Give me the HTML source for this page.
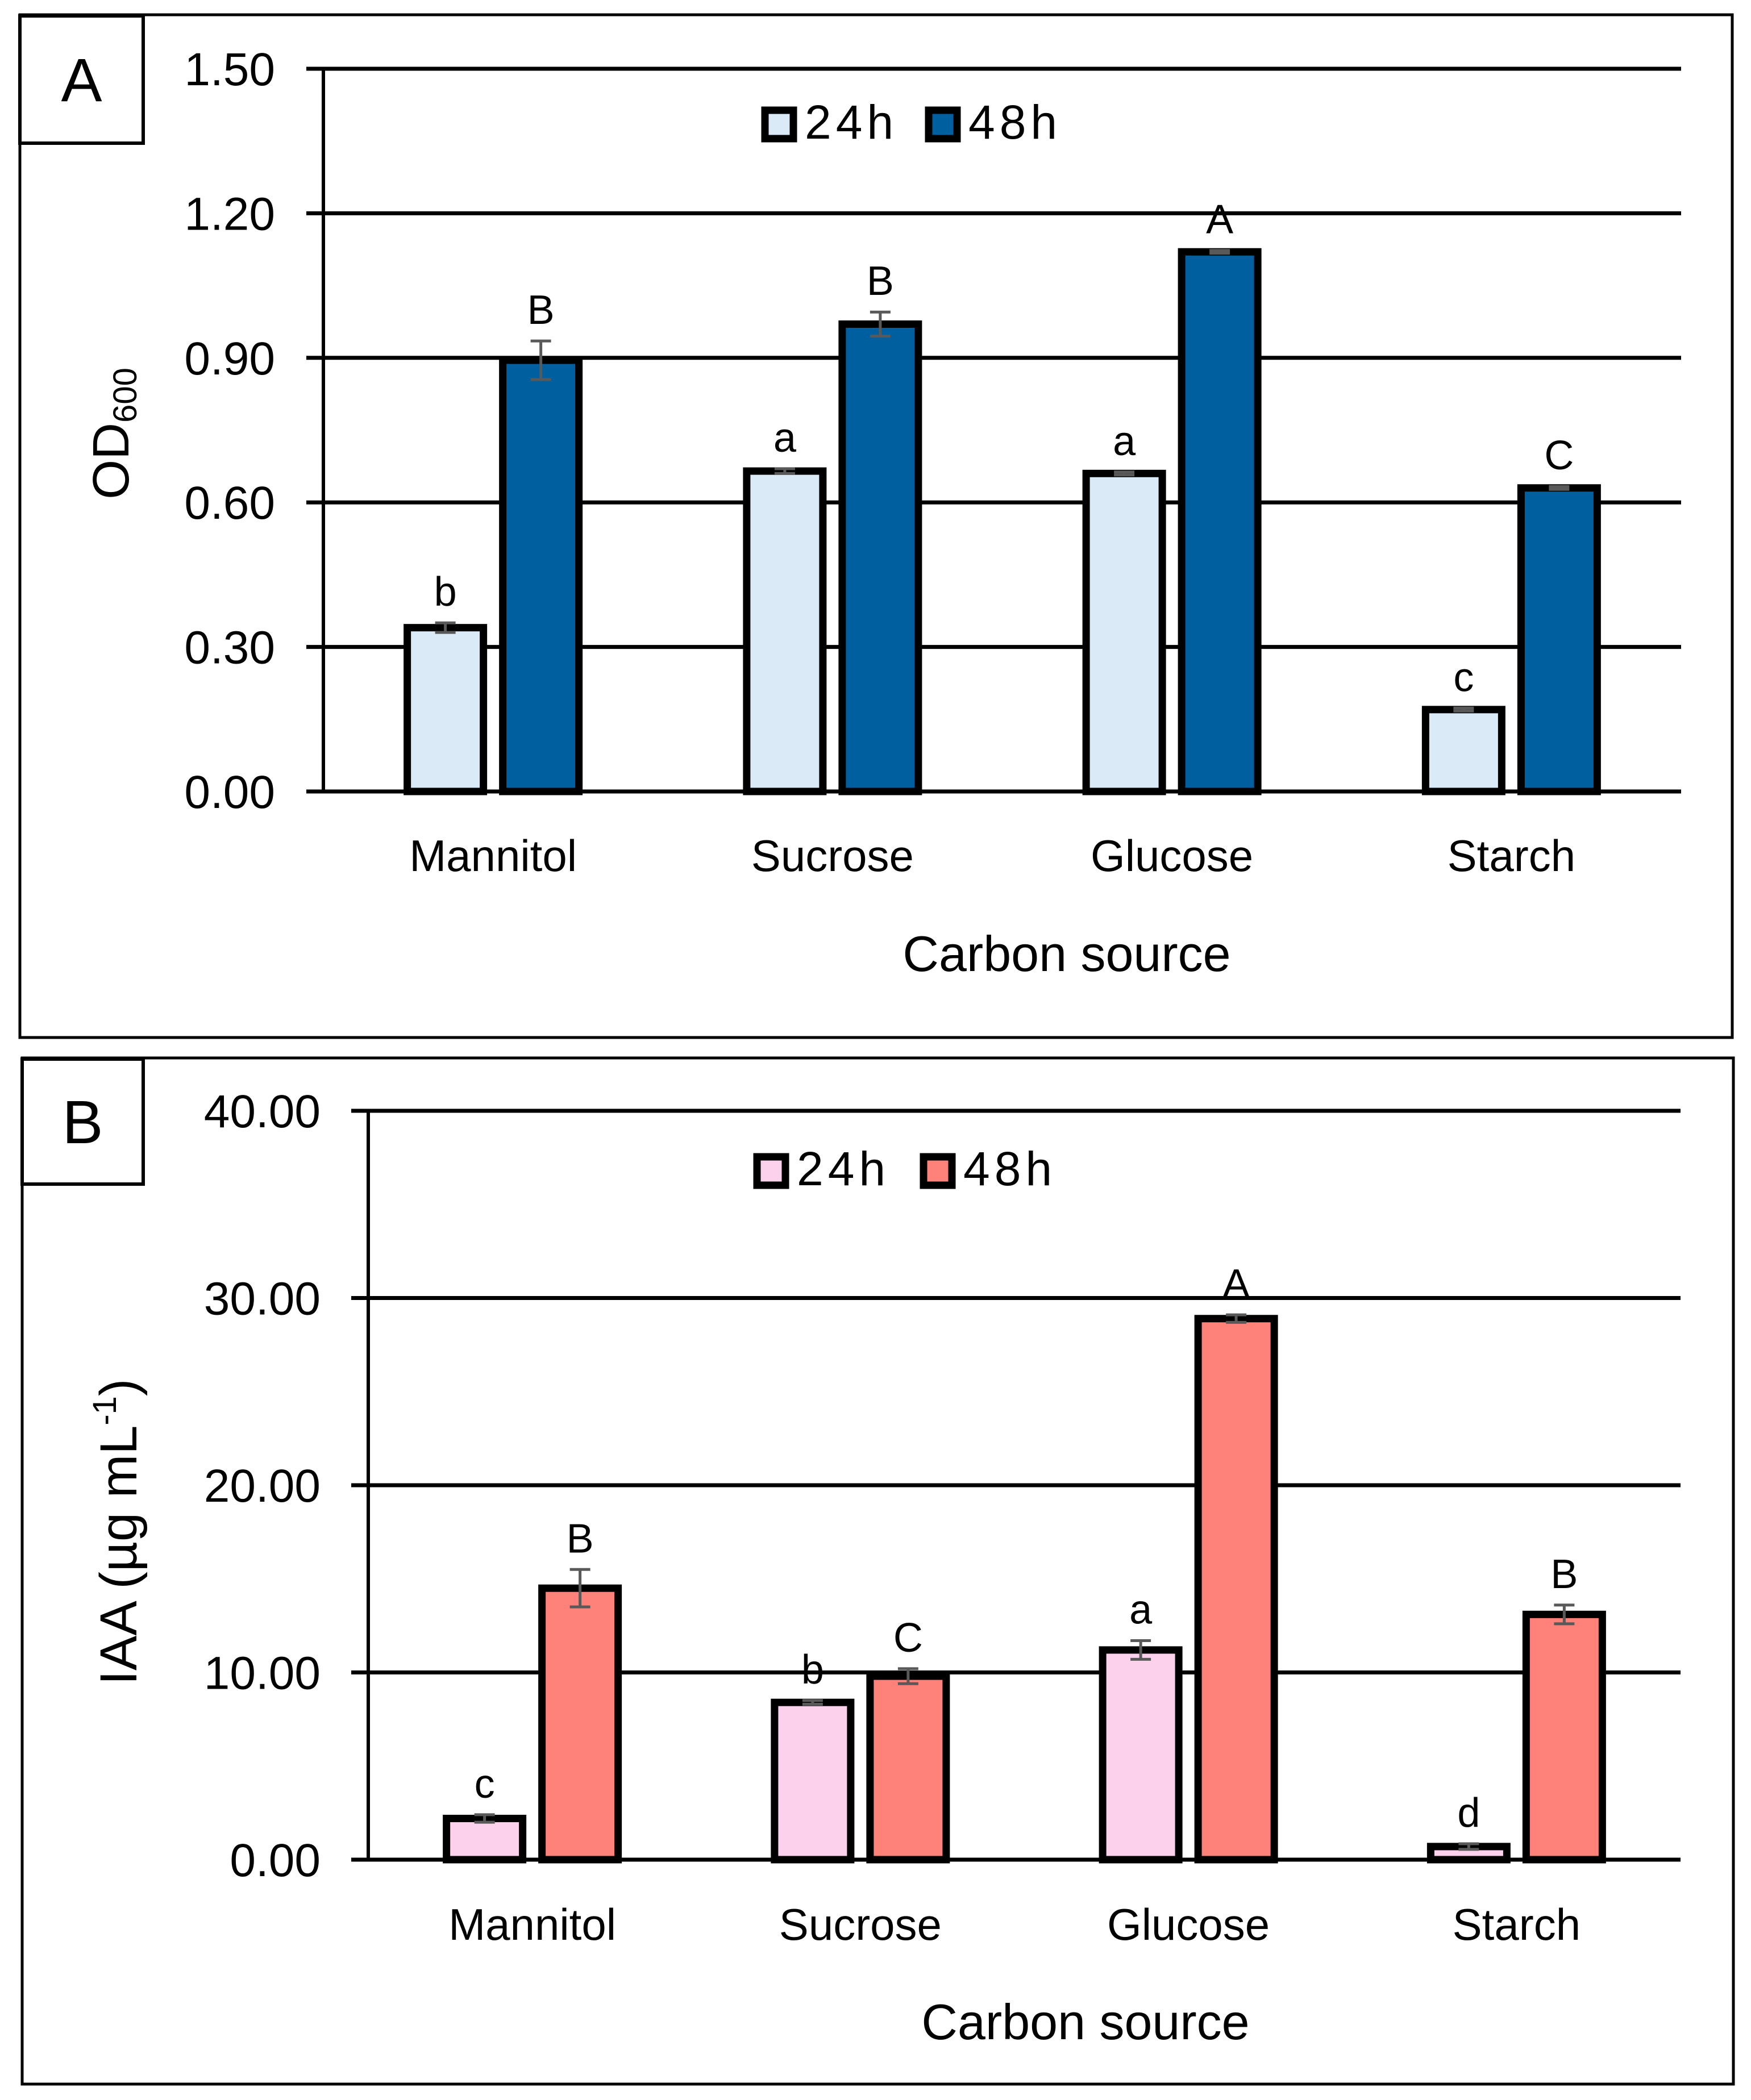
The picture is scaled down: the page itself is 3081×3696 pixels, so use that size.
<!DOCTYPE html>
<html><head><meta charset="utf-8"><style>
html,body{margin:0;padding:0;background:#fff}
svg{display:block}
text{font-family:"Liberation Sans",sans-serif;fill:#000}
</style></head><body>
<svg id="fig" width="3081" height="3696" viewBox="0 0 3081 3696" xmlns="http://www.w3.org/2000/svg"></svg>
<script>
const categories = ["Mannitol","Sucrose","Glucose","Starch"];
// Panel A: OD600
const odTicks = [0, 0.30, 0.60, 0.90, 1.20, 1.50];
const od24 = [0.34, 0.665, 0.66, 0.17];
const od48 = [0.895, 0.97, 1.12, 0.63];
const od24err = [0.01, 0.005, 0.003, 0.003];
const od48err = [0.04, 0.025, 0.003, 0.003];
const od24letters = ["b","a","a","c"];
const od48letters = ["B","B","A","C"];
// Panel B: IAA
const iaaTicks = [0, 10, 20, 30, 40];
const iaa24 = [2.2, 8.4, 11.2, 0.7];
const iaa48 = [14.5, 9.8, 28.9, 13.1];
const iaa24err = [0.2, 0.1, 0.5, 0.15];
const iaa48err = [1.0, 0.4, 0.2, 0.5];
const iaa24letters = ["c","b","a","d"];
const iaa48letters = ["B","C","A","B"];

const NS = "http://www.w3.org/2000/svg";
const svg = document.getElementById('fig');
function mk(tag, attrs, parent, txt){
  const e = document.createElementNS(NS, tag);
  for (const k in attrs) e.setAttribute(k, attrs[k]);
  if (txt !== undefined) e.textContent = txt;
  (parent || svg).appendChild(e);
  return e;
}

function panel(cfg){
  const g = mk('g', {});
  
  
  const frame = mk('rect', {x:cfg.box[0], y:cfg.box[1], width:cfg.box[2]-cfg.box[0], height:cfg.box[3]-cfg.box[1], fill:'none', stroke:'#000', 'stroke-width':5}, g);
  
  
  const lb = mk('rect', {x:cfg.lbox[0], y:cfg.lbox[1], width:cfg.lbox[2]-cfg.lbox[0], height:cfg.lbox[3]-cfg.lbox[1], fill:'#fff', stroke:'#000', 'stroke-width':6}, g);
  
  
  const lt = mk('text', {x:(cfg.lbox[0]+cfg.lbox[2])/2, y:(cfg.lbox[1]+cfg.lbox[3])/2+38, 'font-size':108, 'text-anchor':'middle'}, g, cfg.letter);
  
  

  const x0 = cfg.x0, x1 = cfg.x1, y0 = cfg.y0, yTop = cfg.yTop, max = cfg.max;
  const yS = v => y0 - (v/max)*(y0-yTop);
  const cw = (x1-x0)/categories.length;
  const cx = i => x0 + cw*(i+0.5);

  cfg.ticks.forEach(t=>{
    const y = yS(t);
    const gl = mk('line', {x1:x0-30, x2:x1, y1:y, y2:y, stroke:'#000', 'stroke-width':7}, g);
    
    
    const tl = mk('text', {x:cfg.tickRight, y:y+29, 'font-size':82, 'text-anchor':'end'}, g, t.toFixed(2));
    
    
  });
  const ax = mk('line', {x1:x0, x2:x0, y1:yTop, y2:y0+3, stroke:'#000', 'stroke-width':6}, g);
  
  

  const bw = 134, off = 84;
  const series = [
    {vals:cfg.s24, err:cfg.e24, let:cfg.l24, fill:cfg.c24, d:-off, nm:'bar-24h'},
    {vals:cfg.s48, err:cfg.e48, let:cfg.l48, fill:cfg.c48, d:off, nm:'bar-48h'}
  ];
  series.forEach(s=>{
    s.vals.forEach((v,i)=>{
      const c = cx(i)+s.d;
      const yt = yS(v);
      const r = mk('rect', {x:c-bw/2, y:yt, width:bw, height:y0-yt, fill:s.fill, stroke:'#000', 'stroke-width':13}, g);
      
      
      const eT = yS(v+s.err[i]), eB = yS(v-s.err[i]);
      const eb = mk('path', {d:`M${c},${eT}V${eB}M${c-18},${eT}H${c+18}M${c-18},${eB}H${c+18}`, stroke:'#595959', 'stroke-width':5, fill:'none'}, g);
      
      
      const lt2 = mk('text', {x:c, y:eT-30, 'font-size':72, 'text-anchor':'middle'}, g, s.let[i]);
      
      
    });
  });

  categories.forEach((cat,i)=>{
    const t = mk('text', {x:cx(i), y:cfg.catY, 'font-size':78, 'text-anchor':'middle'}, g, cat);
    
    
  });
  const xt = mk('text', {x:cfg.xTitleX, y:cfg.xTitleY, 'font-size':88, 'text-anchor':'middle'}, g, 'Carbon source');
  
  

  const legs = [[cfg.legX[0], cfg.c24, '24h'], [cfg.legX[1], cfg.c48, '48h']];
  legs.forEach(l=>{
    const lg = mk('g', {}, g);
    
    
    mk('rect', {x:l[0]+6, y:cfg.legY+6, width:50, height:50, fill:l[1], stroke:'#000', 'stroke-width':13}, lg);
    mk('text', {x:l[0]+76, y:cfg.legY+56, 'font-size':84, 'letter-spacing':8}, lg, l[2]);
  });
  return g;
}

const gA = panel({name:'panel-a', letter:'A', box:[35,26,3048,1826], lbox:[35,28,252,252],
  x0:569, x1:2958, y0:1393, yTop:121, max:1.5, ticks:odTicks, tickRight:484,
  s24:od24, s48:od48, e24:od24err, e48:od48err, l24:od24letters, l48:od48letters,
  c24:'#daeaf7', c48:'#005f9e', catY:1533, xTitleX:1877, xTitleY:1709, legX:[1340,1628], legY:188});
const yA = mk('text', {transform:'translate(226,763) rotate(-90)', 'font-size':90, 'text-anchor':'middle'}, gA);


mk('tspan', {}, yA, 'OD');
mk('tspan', {'font-size':58, dy:14}, yA, '600');

const gB = panel({name:'panel-b', letter:'B', box:[39,1862,3050,3668], lbox:[39,1864,252,2084],
  x0:648, x1:2957, y0:3273, yTop:1955, max:40, ticks:iaaTicks, tickRight:564,
  s24:iaa24, s48:iaa48, e24:iaa24err, e48:iaa48err, l24:iaa24letters, l48:iaa48letters,
  c24:'#fbd1ec', c48:'#fe8279', catY:3414, xTitleX:1910, xTitleY:3589, legX:[1326,1619], legY:2030});
const yB = mk('text', {transform:'translate(240,2696) rotate(-90)', 'font-size':92, 'text-anchor':'middle'}, gB);


mk('tspan', {}, yB, 'IAA (µg mL');
mk('tspan', {'font-size':58, dy:-36}, yB, '-1');
mk('tspan', {dy:36}, yB, ')');
</script>
</body></html>
